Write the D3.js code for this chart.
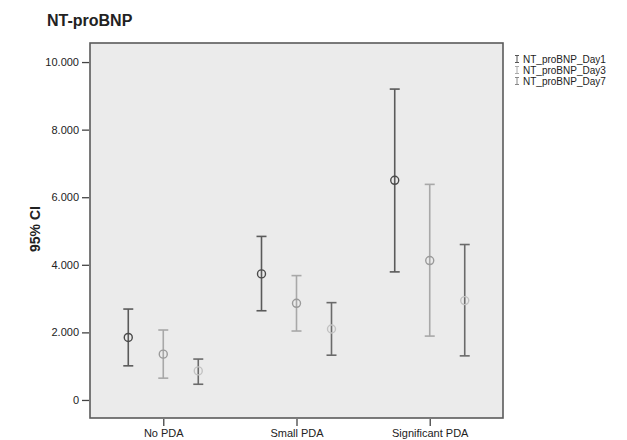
<!DOCTYPE html>
<html><head><meta charset="utf-8">
<script src="https://cdn.jsdelivr.net/npm/d3@7"></script>
<style>body{margin:0;background:#fff;} text{font-family:"Liberation Sans",Arial,sans-serif;}</style>
</head><body><svg id="c" width="627" height="440"></svg>
<script>
const groups = ["No PDA", "Small PDA", "Significant PDA"];
const seriesNames = ["NT_proBNP_Day1", "NT_proBNP_Day3", "NT_proBNP_Day7"];
const yTicks = [0, 2000, 4000, 6000, 8000, 10000];
const yTickLabels = ["0", "2.000", "4.000", "6.000", "8.000", "10.000"];
// mean, lower, upper per group
const day1Mean = [1850, 3730, 6500];
const day1Low = [1010, 2640, 3790];
const day1High = [2690, 4840, 9200];
const day3Mean = [1355, 2860, 4125];
const day3Low = [645, 2040, 1890];
const day3High = [2070, 3680, 6380];
const day7Mean = [860, 2100, 2940];
const day7Low = [465, 1325, 1305];
const day7High = [1210, 2880, 4600];

const series = [
  {name: seriesNames[0], mean: day1Mean, low: day1Low, high: day1High, line: "#5a5a5a", dot: "#4a4a4a", leg: "#555"},
  {name: seriesNames[1], mean: day3Mean, low: day3Low, high: day3High, line: "#a8a8a8", dot: "#9a9a9a", leg: "#aaa"},
  {name: seriesNames[2], mean: day7Mean, low: day7Low, high: day7High, line: "#6a6a6a", dot: "#c2c2c2", leg: "#888"}
];

const svg = d3.select("#c");
const L = 90, R = 503, T = 43, B = 418;
const x = d3.scalePoint().domain(groups).range([L, R]).padding(0.55);
const off = d3.scalePoint().domain(seriesNames).range([-35, 35]);
const y = d3.scaleLinear().domain([-534, 10564]).range([B, T]);

svg.append("rect").attr("x", L).attr("y", T).attr("width", R - L).attr("height", B - T)
  .attr("fill", "#ebebeb").attr("stroke", "#5a5a5a").attr("stroke-width", 1.6);

svg.append("text").attr("x", 47).attr("y", 26).attr("font-size", 16).attr("font-weight", "bold")
  .attr("fill", "#222").text("NT-proBNP");

const ya = d3.axisLeft(y).tickValues(yTicks).tickFormat((d, i) => yTickLabels[i]).tickSize(7).tickPadding(3);
const gy = svg.append("g").attr("transform", `translate(${L - 1},0)`).call(ya);
gy.select(".domain").remove();
gy.selectAll("line").attr("stroke", "#444").attr("stroke-width", 1.3);
gy.selectAll("text").attr("font-size", 11).attr("fill", "#222").attr("font-family", "Liberation Sans, Arial, sans-serif");

const xa = d3.axisBottom(x).tickSize(7).tickPadding(3);
const gx = svg.append("g").attr("transform", `translate(0,${B + 1})`).call(xa);
gx.select(".domain").remove();
gx.selectAll("line").attr("stroke", "#444").attr("stroke-width", 1.3);
gx.selectAll("text").attr("font-size", 11).attr("fill", "#222").attr("font-family", "Liberation Sans, Arial, sans-serif");

svg.append("text").attr("transform", "translate(40,229) rotate(-90)").attr("text-anchor", "middle")
  .attr("font-size", 14).attr("font-weight", "bold").attr("fill", "#222").text("95% CI");

series.forEach(s => {
  const g = svg.append("g");
  groups.forEach((grp, i) => {
    const cx = x(grp) + off(s.name);
    g.append("line").attr("x1", cx).attr("x2", cx).attr("y1", y(s.low[i])).attr("y2", y(s.high[i]))
      .attr("stroke", s.line).attr("stroke-width", 1.6);
    [s.low[i], s.high[i]].forEach(v => {
      g.append("line").attr("x1", cx - 5).attr("x2", cx + 5).attr("y1", y(v)).attr("y2", y(v))
        .attr("stroke", s.line).attr("stroke-width", 1.6);
    });
    g.append("circle").attr("cx", cx).attr("cy", y(s.mean[i])).attr("r", 4)
      .attr("fill", "none").attr("stroke", s.dot).attr("stroke-width", 1.4);
  });
});

// legend
series.forEach((s, i) => {
  const ly = 59 + i * 11;
  const g = svg.append("g");
  g.append("line").attr("x1", 517).attr("x2", 517).attr("y1", ly - 3.5).attr("y2", ly + 3.5).attr("stroke", s.leg).attr("stroke-width", 1);
  g.append("line").attr("x1", 515).attr("x2", 519).attr("y1", ly - 3.5).attr("y2", ly - 3.5).attr("stroke", s.leg).attr("stroke-width", 1);
  g.append("line").attr("x1", 515).attr("x2", 519).attr("y1", ly + 3.5).attr("y2", ly + 3.5).attr("stroke", s.leg).attr("stroke-width", 1);
  g.append("text").attr("x", 523).attr("y", ly + 3.5).attr("font-size", 10).attr("fill", "#222").text(s.name);
});
</script></body></html>
